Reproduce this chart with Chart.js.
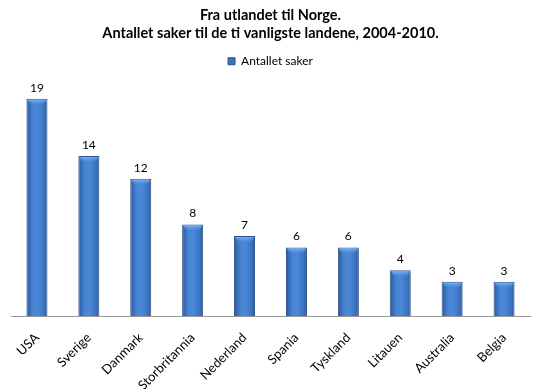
<!DOCTYPE html>
<html>
<head>
<meta charset="utf-8">
<script src="https://cdn.jsdelivr.net/npm/chart.js@4"></script>
<style>
html,body{margin:0;padding:0;background:#fff;}
#wrap{width:540px;height:389px;}
</style>
</head>
<body>
<div id="wrap"><canvas id="c" width="540" height="389"></canvas></div>
<script>
const categories = ["USA","Sverige","Danmark","Storbritannia","Nederland","Spania","Tyskland","Litauen","Australia","Belgia"];
const seriesName = "Antallet saker";
const values = [19,14,12,8,7,6,6,4,3,3];
const titleLines = ["Fra utlandet til Norge.","Antallet saker til de ti vanligste landene, 2004-2010."];
const FONT = "Lato, 'Open Sans', sans-serif";

const barStyle = {
  id: 'barStyle',
  beforeDatasetsDraw(chart) {
    const ctx = chart.ctx;
    chart.getDatasetMeta(0).data.forEach(el => {
      const l = el.x - el.width / 2, r = el.x + el.width / 2;
      const g = ctx.createLinearGradient(l, 0, r, 0);
      g.addColorStop(0, '#2a5796');
      g.addColorStop(0.3, '#4784d4');
      g.addColorStop(0.55, '#4a88d8');
      g.addColorStop(0.85, '#3a72bf');
      g.addColorStop(1, '#2a5490');
      el.options = Object.assign({}, el.options, { backgroundColor: g });
    });
  },
  afterDatasetsDraw(chart) {
    const ctx = chart.ctx;
    const meta = chart.getDatasetMeta(0);
    ctx.save();
    meta.data.forEach((el, i) => {
      const l = el.x - el.width / 2, r = el.x + el.width / 2;
      const g = ctx.createLinearGradient(0, el.y, 0, el.y + 6);
      g.addColorStop(0, 'rgba(140,200,255,0.95)');
      g.addColorStop(1, 'rgba(90,150,230,0.1)');
      ctx.fillStyle = g;
      ctx.beginPath();
      ctx.moveTo(l + 1, el.y + 1);
      ctx.lineTo(r - 1, el.y + 1);
      ctx.lineTo(r - 4, el.y + 6);
      ctx.lineTo(l + 4, el.y + 6);
      ctx.closePath();
      ctx.fill();
      ctx.fillStyle = '#000';
      ctx.font = "12px " + FONT;
      ctx.textAlign = 'center';
      ctx.textBaseline = 'bottom';
      ctx.fillText(String(values[i]), el.x, el.y - 5);
    });
    ctx.restore();
  }
};

new Chart(document.getElementById('c'), {
  type: 'bar',
  data: {
    labels: categories,
    datasets: [{
      label: seriesName,
      data: values,
      backgroundColor: '#3a72c2',
      borderColor: '#2b5188',
      borderWidth: 1,
      barPercentage: 0.81,
      categoryPercentage: 0.5
    }]
  },
  options: {
    responsive: false,
    animation: false,
    layout: { padding: { left: 11, right: 10, top: 4, bottom: 0 } },
    plugins: {
      title: {
        display: true,
        text: titleLines,
        color: '#000',
        font: { family: FONT, size: 14.5, weight: 'bold', lineHeight: 1.25 },
        padding: { top: 2, bottom: 0 }
      },
      legend: {
        display: true,
        labels: {
          boxWidth: 7, boxHeight: 7,
          color: '#000',
          font: { family: FONT, size: 12 },
          padding: 13,
          generateLabels: () => [{ text: seriesName, fillStyle: '#3a72c2', strokeStyle: '#2b5188', lineWidth: 1 }]
        }
      },
      tooltip: { enabled: false }
    },
    scales: {
      x: {
        grid: { display: false, drawTicks: false },
        border: { display: true, color: '#9a9a9a', width: 1 },
        ticks: { color: '#000', font: { family: FONT, size: 13 }, minRotation: 45, maxRotation: 45, padding: 14 },
        afterFit: s => { s.height = 73; }
      },
      xTop: {
        type: 'category',
        position: 'top',
        display: true,
        grid: { display: false, drawTicks: false },
        border: { display: false },
        ticks: { display: false },
        afterFit: s => { s.height = 10; }
      },
      y: {
        display: false,
        min: 0, max: 20
      }
    }
  },
  plugins: [barStyle]
});
</script>
</body>
</html>
